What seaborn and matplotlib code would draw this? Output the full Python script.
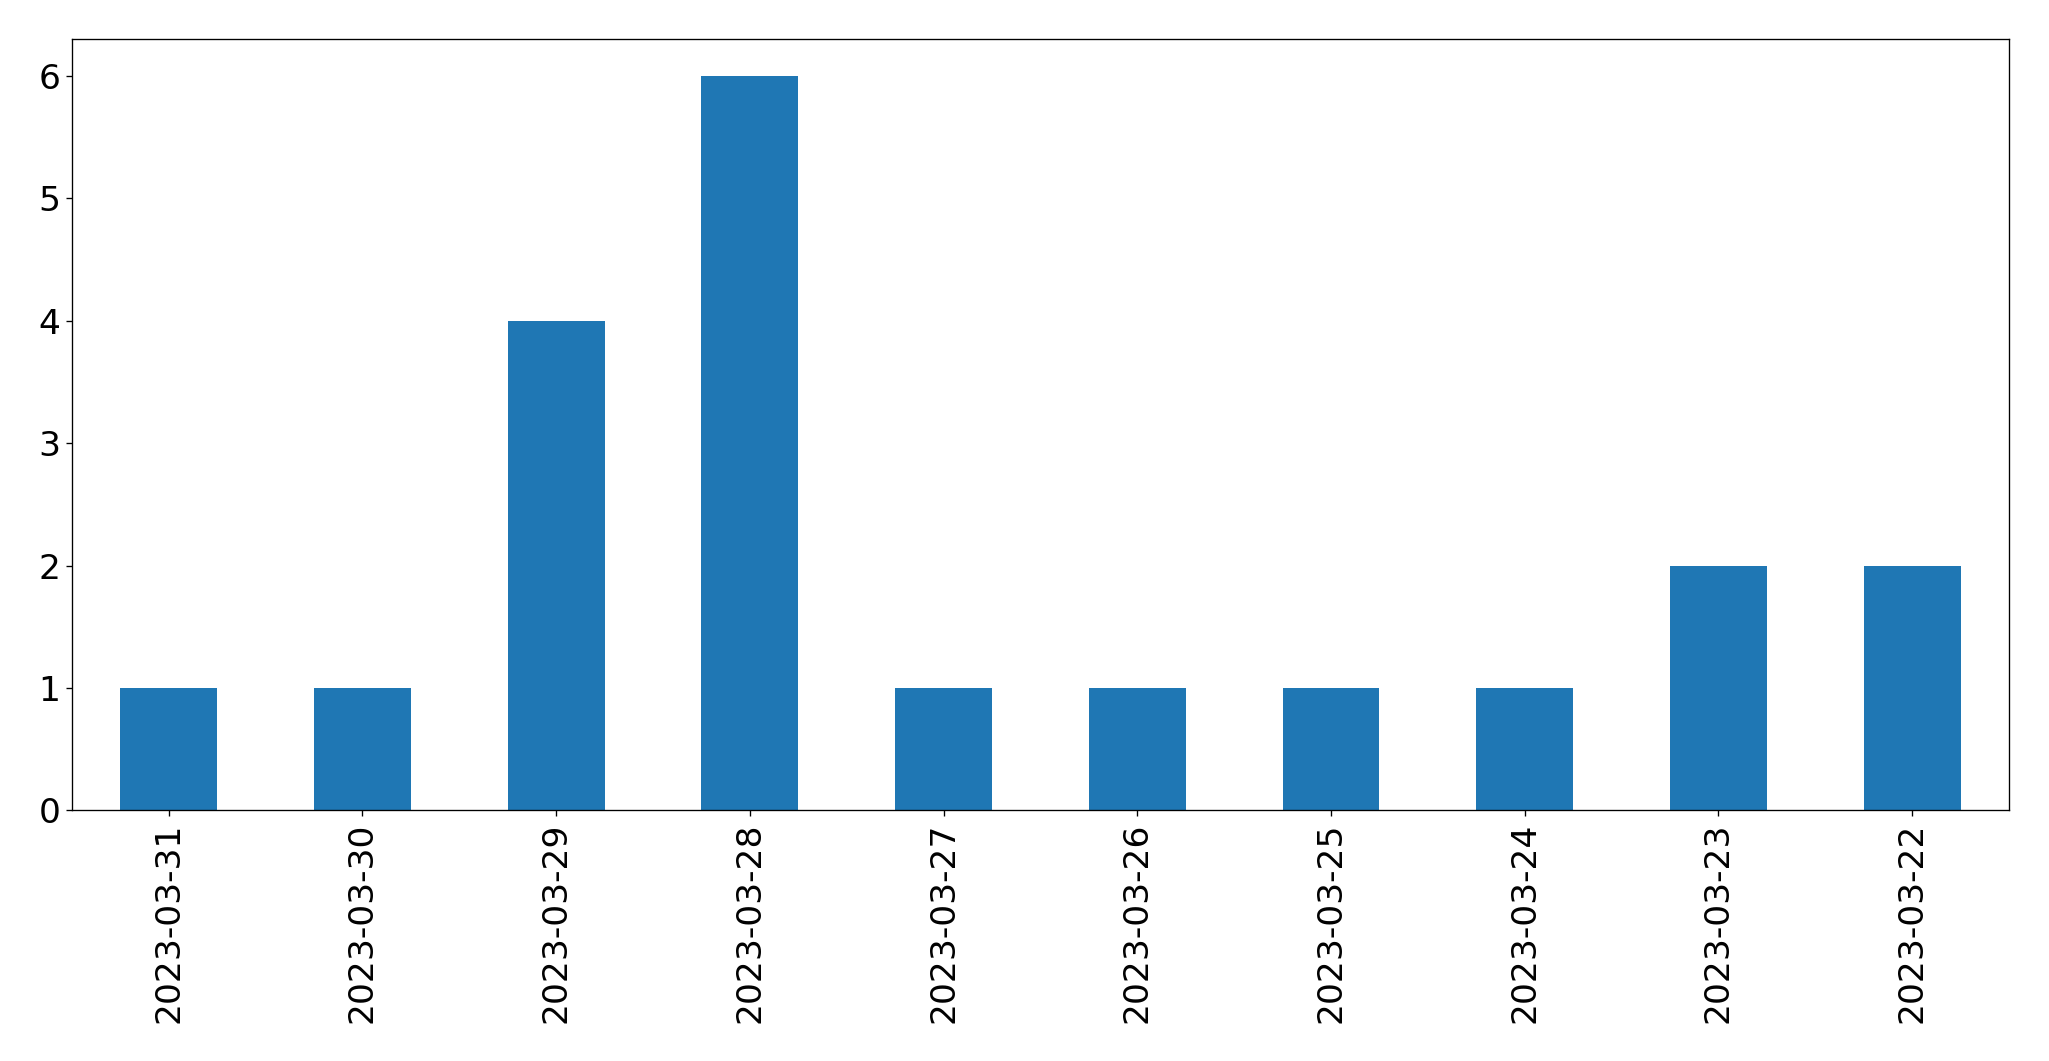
import pandas as pd
import seaborn as sns
import matplotlib.pyplot as plt

fechas = ["2023-03-31", "2023-03-30", "2023-03-29", "2023-03-28", "2023-03-27",
          "2023-03-26", "2023-03-25", "2023-03-24", "2023-03-23", "2023-03-22"]
conteos = [1, 1, 4, 6, 1, 1, 1, 1, 2, 2]

df = pd.DataFrame({"fecha": fechas, "conteo": conteos})

fig = plt.figure(figsize=(2049 / 120, 1061 / 120), dpi=120)
ax = fig.add_axes([0.0351, 0.2361, 0.9454, 0.7269])

sns.barplot(data=df, x="fecha", y="conteo", order=fechas, color="#1f77b4",
            saturation=1, width=0.5, ax=ax)

ax.set_xlim(-0.5, len(fechas) - 0.5)
ax.set_ylim(0, 6.3)
ax.set_xlabel("")
ax.set_ylabel("")
ax.tick_params(axis="both", labelsize=20.7)
ax.tick_params(axis="x", labelrotation=90)

fig.savefig("out.png", dpi=120)
